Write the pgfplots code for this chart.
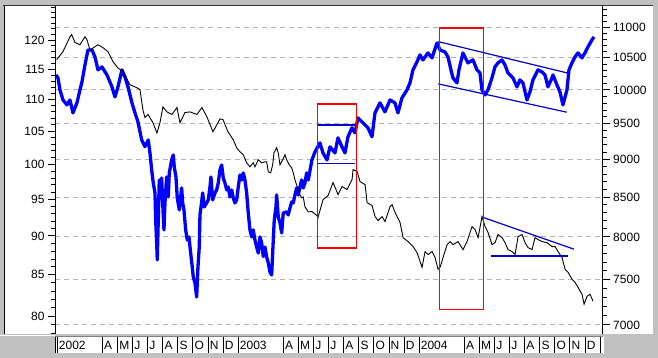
\documentclass[border=0pt]{standalone}
\usepackage{pgfplots}
\pgfplotsset{compat=1.18}
\usepackage{fontspec}
\setmainfont{Liberation Sans}
\definecolor{bgray}{RGB}{192,192,192}
\definecolor{dblue}{RGB}{0,0,205}
\definecolor{gridg}{RGB}{180,180,180}
\begin{document}
\begin{tikzpicture}[x=1pt,y=1pt]
\useasboundingbox (0,0) rectangle (658,358);
\fill[bgray] (0,0) rectangle (658,358);
\fill[white] (4,24) rectangle (653,352.5);
\draw[black, line width=1.5pt] (4.5,24) -- (4.5,352.5);
\draw[gray!40!black, line width=1pt] (3,352.8) -- (653,352.8);
\draw[white, line width=1pt] (0,22.8) -- (55,22.8);
\fill[white] (55,4.5) rectangle (603,21.5);
\draw[gray, line width=1pt] (55,21.5) -- (603,21.5);
\draw[white, line width=1pt] (603.5,4) -- (603.5,22);

% date band
\begin{axis}[at={(55pt,5pt)}, anchor=south west, scale only axis,
  width=547.7pt, height=16pt, xmin=-0.15, xmax=36.17, ymin=0, ymax=1,
  axis line style={draw=none}, ytick=\empty,
  xtick={0,3,4,5,6,7,8,9,10,11,12,15,16,17,18,19,20,21,22,23,24,27,28,29,30,31,32,33,34,35,36},
  xticklabels={2002,A,M,J,J,A,S,O,N,D,2003,A,M,J,J,A,S,O,N,D,2004,A,M,J,J,A,S,O,N,D,{}},
  xmajorgrids, major grid style={black,line width=1pt}, major tick length=0pt,
  xticklabel style={anchor=west, yshift=8pt, inner xsep=1.5pt, font=\fontsize{12}{14}\selectfont}]
\draw[black,line width=1pt] (axis cs:-0.09,0) -- (axis cs:-0.09,1);
\end{axis}

% right axis: blue series
\begin{axis}[at={(55pt,24pt)}, anchor=south west, scale only axis,
  width=547.7pt, height=328pt, xmin=-0.15, xmax=36.17, ymode=log,
  axis x line=none, tick align=outside,
  major tick length=7pt, minor tick length=4pt,
  tick style={black, line width=1pt},
  axis line style={black, line width=1pt},
  ticklabel style={font=\fontsize{12}{14}\selectfont},
  ymin=6905, ymax=11361.6, axis y line*=right,
  ytick={7000,7500,8000,8500,9000,9500,10000,10500,11000},
  yticklabels={7000,7500,8000,8500,9000,9500,10000,10500,11000},
  minor ytick={7100,7200,7300,7400,7600,7700,7800,7900,8100,8200,8300,8400,8600,8700,8800,8900,9100,9200,9300,9400,9600,9700,9800,9900,10100,10200,10300,10400,10600,10700,10800,10900,11100,11200,11300},
  ymajorgrids, major grid style={gridg, line width=1pt, dash pattern=on 5pt off 4pt}]
\addplot[blue, line width=3.3pt, line join=round, no markers] coordinates {
(-0.086,10231) (0.046,10185) (0.179,10001) (0.378,9850) (0.643,9776) (0.842,9850) (1.041,9658) (1.306,9806) (1.505,10001) (1.638,10123) (1.837,10388) (2.036,10627) (2.301,10627) (2.5,10515) (2.699,10310) (2.964,10356) (3.296,10231) (3.627,10047) (3.826,9895) (4.025,10047) (4.291,10310) (4.49,10200) (4.689,10047) (4.954,9806) (5.153,9658) (5.352,9527)
(5.597,9270) (5.816,9176) (6.034,9270) (6.147,9089) (6.26,8857) (6.366,8684) (6.479,8553) (6.525,8209) (6.592,7928) (6.631,7726) (6.698,8209) (6.764,8723) (6.857,8488) (6.923,8750) (6.99,8424) (7.076,8086) (7.142,8424) (7.255,8763) (7.361,8501) (7.427,8817) (7.586,8992) (7.692,9061) (7.759,8897) (7.871,8763) (7.958,8488) (8.09,8335) (8.183,8501) (8.249,8618) (8.316,8424) (8.402,8335) (8.515,8086) (8.621,7964) (8.733,8000) (8.846,7808) (8.952,7644) (9.019,7529) (9.131,7461) (9.244,7304) (9.33,7644) (9.416,7880) (9.463,8272) (9.576,8437) (9.642,8553) (9.748,8373) (9.907,8424) (10.013,8463) (10.126,8631) (10.192,8763) (10.305,8463) (10.458,8553) (10.57,8592) (10.676,8684) (10.789,8857) (10.902,8924) (11.008,8750) (11.121,8684) (11.233,8592) (11.339,8631) (11.452,8501) (11.565,8592) (11.671,8488) (11.784,8424) (11.897,8463) (12.003,8631) (12.115,8790) (12.228,8723) (12.334,8817) (12.447,8723) (12.56,8553) (12.666,8297) (12.779,8086) (12.891,8000) (12.997,8086) (13.11,7964) (13.223,7880) (13.329,7808) (13.442,8000) (13.554,7928) (13.66,7766) (13.773,7880) (13.886,7761) (13.992,7691) (14.105,7586) (14.218,7552) (14.324,7964) (14.39,8209) (14.503,8373) (14.549,8527) (14.655,8247) (14.768,8172) (14.881,8049) (14.987,8297) (15.212,8310) (15.318,8272) (15.431,8360) (15.544,8437) (15.65,8424) (15.763,8527) (15.875,8618) (15.981,8527) (16.094,8631) (16.207,8723) (16.313,8618) (16.426,8684) (16.538,8817) (16.645,8723)
(16.89,8993) (17.089,9103) (17.421,9229) (17.62,9089) (17.886,8993) (18.085,9173) (18.416,9089) (18.615,9299) (18.88,9173) (19.079,9089) (19.278,9314) (19.543,9442) (19.742,9370) (19.941,9585) (20.272,9513) (20.604,9442) (20.869,9314) (21.068,9658) (21.4,9806) (21.731,9673) (22.063,9850) (22.394,9806) (22.593,9658) (22.858,9880) (23.19,10001) (23.389,10108) (23.588,10310) (23.853,10435) (24.052,10547) (24.251,10467) (24.583,10579) (24.848,10499) (25.179,10741) (25.378,10627) (25.71,10595) (25.909,10515) (26.108,10310) (26.24,10185) (26.505,10108) (26.638,10310) (26.903,10579) (27.235,10420) (27.566,10467) (27.831,10310) (28.03,10263) (28.163,10001) (28.362,9925) (28.561,10001) (28.826,10185) (29.025,10356) (29.224,10420) (29.489,10467) (29.688,10388) (29.887,10263) (30.219,10185) (30.484,10047) (30.683,10154) (30.882,10108) (31.147,9850) (31.346,9971) (31.545,10154) (31.877,10310) (32.142,10278) (32.341,10231) (32.54,10047) (32.805,10185) (32.872,10231) (33.137,10077) (33.336,9971) (33.535,9776) (33.8,10001) (33.933,10310) (34.132,10420) (34.331,10515) (34.53,10579) (34.795,10499) (34.994,10579) (35.193,10676) (35.458,10790) (35.591,10839)
};
\addplot[dblue, line width=1.2pt, no markers] coordinates {(17.241,9483.5) (19.741,9483.5)};
\addplot[dblue, line width=1.2pt, no markers] coordinates {(17.241,8948) (19.741,8948)};
\addplot[dblue, line width=1.2pt, no markers] coordinates {(25.265,10762) (33.886,10258)};
\addplot[dblue, line width=1.2pt, no markers] coordinates {(25.265,10093) (33.78,9668)};
\end{axis}

% left axis: black series
\begin{axis}[at={(55pt,24pt)}, anchor=south west, scale only axis,
  width=547.7pt, height=328pt, xmin=-0.15, xmax=36.17, ymode=log,
  axis x line=none, tick align=outside,
  major tick length=7pt, minor tick length=4pt,
  tick style={black, line width=1pt},
  axis line style={black, line width=1pt},
  ticklabel style={font=\fontsize{12}{14}\selectfont},
  ymin=77.93, ymax=126.2, axis y line*=left,
  ytick={80,85,90,95,100,105,110,115,120},
  yticklabels={80,85,90,95,100,105,110,115,120},
  minor ytick={78,79,81,82,83,84,86,87,88,89,91,92,93,94,96,97,98,99,101,102,103,104,106,107,108,109,111,112,113,114,116,117,118,119,121,122,123,124,125,126}]
\addplot[black, line width=0.9pt, no markers] coordinates {
(-0.04,116.6) (0.378,118.0) (0.842,120.6) (0.955,121.0) (1.174,119.6) (1.506,119.2) (1.837,120.6) (1.97,120.1) (2.168,118.3) (2.699,119.2) (3.03,118.7) (3.362,118.0) (3.694,116.3) (4.025,115.2) (4.357,114.6) (4.821,112.4) (5.285,111.9) (5.484,111.6) (5.683,108.3) (5.816,107.1) (6.015,107.6) (6.346,106.3) (6.611,104.7) (6.81,106.3) (7.009,108.8) (7.274,108.0) (7.606,107.6) (7.937,108.7) (8.136,106.3) (8.468,107.9) (8.8,108.0) (9.264,107.6) (9.595,108.7) (9.927,107.2) (10.325,104.9) (10.657,106.3) (10.789,106.9) (10.988,106.8) (11.32,104.9)
(11.671,103.67) (11.896,102.45) (12.115,101.85) (12.334,101.40) (12.56,100.22) (12.779,99.63) (12.997,100.22) (13.11,99.63) (13.329,100.66) (13.554,100.22) (13.773,100.36) (13.886,100.36) (13.992,98.90) (14.151,98.76) (14.284,99.92) (14.37,101.70) (14.549,102.45) (14.655,101.70) (14.768,99.92) (14.947,100.66) (15.1,101.40) (15.212,100.66) (15.385,99.92) (15.544,99.48) (15.65,98.76) (15.763,97.74) (15.915,96.74) (16.094,95.61) (16.207,95.19) (16.313,95.33) (16.426,93.94) (16.645,93.25)
(16.891,93.28) (17.222,92.73) (17.288,92.46) (17.626,94.94) (17.958,95.5) (18.289,97.35) (18.621,95.64) (18.886,96.78) (19.218,96.35) (19.549,97.78) (19.615,99.22) (19.881,98.93) (20.08,97.49) (20.411,97.06) (20.544,94.52) (20.875,94.11) (21.074,92.6) (21.273,92.06) (21.539,92.6) (21.738,91.92) (22.069,93.97) (22.202,94.25) (22.401,93.15) (22.732,91.79) (22.931,89.78) (23.263,89.26) (23.594,88.6) (23.859,87.83) (24.191,85.95) (24.39,87.96) (24.589,87.57) (24.854,87.96) (25.053,87.19) (25.252,85.7) (25.385,85.95) (25.584,87.19) (25.849,88.86) (26.048,89.26) (26.247,88.86) (26.578,89.26) (26.91,88.21) (27.175,89.26) (27.507,91.25) (27.706,90.85) (27.905,89.78) (28.17,92.6) (28.369,91.25) (28.568,90.45) (28.833,88.86) (29.032,89.12) (29.231,90.19) (29.496,89.78) (29.695,89.12) (29.894,88.21) (30.159,87.96) (30.358,87.57) (30.557,89.91) (30.822,90.19) (31.021,89.12) (31.22,88.47) (31.485,88.21) (31.684,89.78) (31.883,89.52) (32.149,89.26) (32.48,89.12) (32.812,88.6) (33.011,88.6) (33.21,87.96) (33.475,87.19) (33.674,85.7) (33.873,85.32) (34.138,84.44) (34.337,84.07) (34.536,83.45) (34.801,82.6) (34.934,81.4) (35.133,82.36) (35.332,82.6) (35.531,81.76)
};
\addplot[dblue, line width=1.2pt, no markers] coordinates {(28.143,92.55) (34.264,88.27)};
\addplot[dblue, line width=1.2pt, no markers] coordinates {(28.76,87.40) (33.846,87.40)};
\draw[red, line width=1.4pt] (axis cs:17.241,88.40) rectangle (axis cs:19.854,109.25);
\draw[red, line width=1.4pt] (axis cs:25.332,80.81) rectangle (axis cs:28.249,122.17);
\end{axis}
\end{tikzpicture}
\end{document}
